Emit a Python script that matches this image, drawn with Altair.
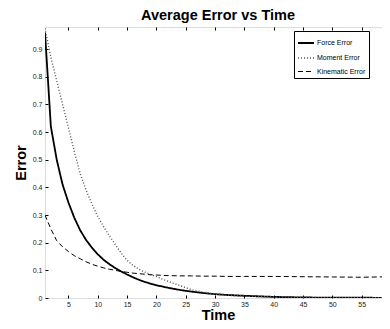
import altair as alt
import pandas as pd

times = [1, 2, 3, 4, 5, 6, 7, 8, 9, 10, 11, 12, 13, 14, 15, 16, 17, 18, 19, 20,
         22, 24, 26, 28, 30, 32, 35, 40, 45, 50, 55, 60]
force_err = [0.96, 0.62, 0.50, 0.41, 0.345, 0.29, 0.245, 0.21, 0.182, 0.158, 0.138, 0.122,
             0.108, 0.096, 0.085, 0.075, 0.066, 0.058, 0.052, 0.046, 0.037, 0.029, 0.023,
             0.018, 0.014, 0.011, 0.008, 0.004, 0.002, 0.001, 0.001, 0.0005]
moment_err = [0.975, 0.87, 0.785, 0.70, 0.615, 0.53, 0.45, 0.39, 0.34, 0.295, 0.258, 0.224,
              0.193, 0.162, 0.136, 0.118, 0.104, 0.094, 0.085, 0.077, 0.060, 0.045, 0.030,
              0.021, 0.014, 0.010, 0.007, 0.004, 0.002, 0.001, 0.001, 0.0005]
kinematic_err = [0.30, 0.25, 0.207, 0.185, 0.168, 0.153, 0.142, 0.131, 0.122, 0.115, 0.109,
                 0.104, 0.100, 0.096, 0.093, 0.090, 0.088, 0.086, 0.084, 0.083, 0.081, 0.080,
                 0.080, 0.079, 0.079, 0.078, 0.078, 0.078, 0.077, 0.076, 0.075, 0.077]
series_names = ["Force Error", "Moment Error", "Kinematic Error"]
x_ticks = [5, 10, 15, 20, 25, 30, 35, 40, 45, 50, 55, 60]
y_ticks = [0, 0.1, 0.2, 0.3, 0.4, 0.5, 0.6, 0.7, 0.8, 0.9]

rows = []
for name, vals in zip(series_names, [force_err, moment_err, kinematic_err]):
    for t, v in zip(times, vals):
        rows.append({"t": t, "v": v, "series": name})
df = pd.DataFrame(rows)

FONT = "Liberation Sans"
xs = alt.Scale(domain=[1, 60], nice=False, zero=False)
ys = alt.Scale(domain=[0, 0.98], nice=False)

common_axis = dict(offset=-3, tickSize=3, domain=False, grid=False, tickColor="black",
                   tickWidth=1, labelFontSize=7, labelColor="#222", labelFont=FONT,
                   titleFont=FONT, titleFontSize=14.5, titleFontWeight="bold", titleColor="black")

x_bottom = alt.Axis(orient="bottom", values=x_ticks, labelPadding=2, labelFlush=False,
                    labelOverlap=False, title="Time", titlePadding=1, **common_axis)
y_left = alt.Axis(orient="left", values=y_ticks, format="~g", labelPadding=3,
                  title="Error", titlePadding=4, **common_axis)
x_top = alt.Axis(orient="top", values=x_ticks, labels=False, title=None, offset=-3,
                 tickSize=3, domain=False, grid=False, tickColor="black")
y_right = alt.Axis(orient="right", values=y_ticks[1:], labels=False, title=None, offset=-3,
                   tickSize=3, domain=False, grid=False, tickColor="black")

leg = alt.Legend(title=None, orient="none", legendX=249, legendY=4, strokeColor="black",
                 fillColor="white", padding=3, symbolType="stroke", symbolSize=256,
                 labelFontSize=7, labelFont=FONT, labelColor="black", labelOffset=2,
                 rowPadding=2, labelLimit=200)

lines = alt.Chart(df).mark_line(clip=True).encode(
    x=alt.X("t:Q", scale=xs, axis=x_bottom),
    y=alt.Y("v:Q", scale=ys, axis=y_left),
    color=alt.Color("series:N", scale=alt.Scale(domain=series_names,
                                                range=["black", "#555555", "black"]), legend=leg),
    strokeDash=alt.StrokeDash("series:N", scale=alt.Scale(domain=series_names,
                                                          range=[[1, 0], [1, 2], [5, 3]]), legend=leg),
    strokeWidth=alt.StrokeWidth("series:N", scale=alt.Scale(domain=series_names,
                                                            range=[1.8, 1, 2]), legend=leg),
    detail="series:N",
)

frame_ticks = alt.Chart(df).mark_point(opacity=0).encode(
    x=alt.X("t:Q", scale=xs, axis=x_top),
    y=alt.Y("v:Q", scale=ys, axis=y_right),
)

chart = alt.layer(lines, frame_ticks).resolve_axis(
    x="independent", y="independent"
).properties(
    width=346,
    height=271,
    title=alt.TitleParams("Average Error vs Time", fontSize=14.5, fontWeight="bold",
                          font=FONT, anchor="middle", offset=2, color="black"),
    padding={"left": 37, "top": 19, "right": -9, "bottom": 29},
    autosize=alt.AutoSizeParams(type="none"),
).configure_view(
    stroke="black", strokeWidth=1.5
).configure(background="white")

chart.save("out.html", embed_options={"renderer": "svg", "actions": False})
